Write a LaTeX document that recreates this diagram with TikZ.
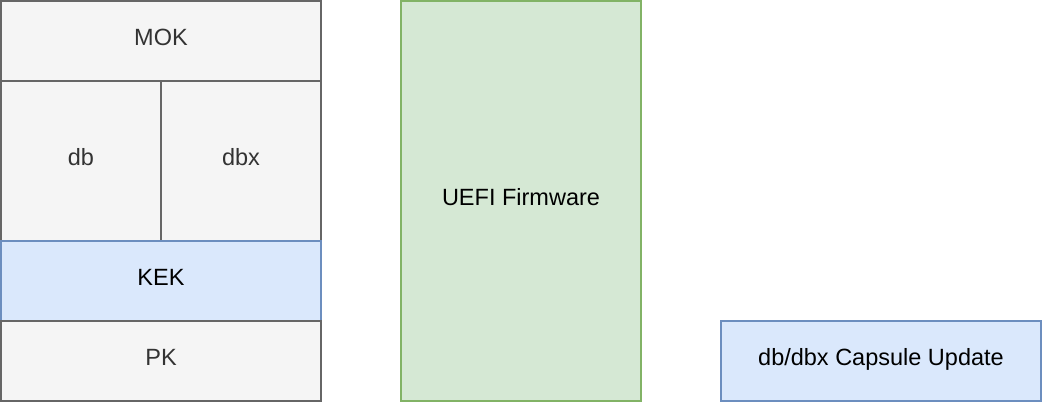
\documentclass[tikz,border=0pt]{standalone}
\usepackage{fontspec}
\setmainfont{Liberation Sans}
\usetikzlibrary{positioning}
\definecolor{grayfill}{HTML}{F5F5F5}
\definecolor{graydraw}{HTML}{666666}
\definecolor{graytext}{HTML}{333333}
\definecolor{bluefill}{HTML}{DAE8FC}
\definecolor{bluedraw}{HTML}{6C8EBF}
\definecolor{greenfill}{HTML}{D5E8D4}
\definecolor{greendraw}{HTML}{82B366}
\begin{document}
\begin{tikzpicture}[x=1pt, y=-1pt]
        \tikzstyle{every node}=[rectangle, draw, line width=2pt, inner sep=0pt, text height=17pt, text depth=8pt, font=\fontsize{23.5}{28}\selectfont];
        \tikzstyle{keybox}=[fill=grayfill, draw=graydraw, text=graytext];
        \tikzstyle{bluebox}=[fill=bluefill, draw=bluedraw, text=black];
        \tikzstyle{greenbox}=[fill=greenfill, draw=greendraw, text=black];
        \useasboundingbox (0,0) rectangle (1042,402);
        \node[keybox, minimum width=320pt, minimum height=80pt] (mok) at (161,41) {MOK};
        \node[keybox, minimum width=160pt, minimum height=160pt] (db) at (81,161) {db};
        \node[keybox, minimum width=160pt, minimum height=160pt] (dbx) at (241,161) {dbx};
        \node[bluebox, minimum width=320pt, minimum height=80pt] (kek) at (161,281) {KEK};
        \node[keybox, minimum width=320pt, minimum height=80pt] (pk) at (161,361) {PK};
        \node[greenbox, minimum width=240pt, minimum height=400pt] (uefi) at (521,201) {UEFI Firmware};
        \node[bluebox, minimum width=320pt, minimum height=80pt] (capsule) at (881,361) {db/dbx Capsule Update};
\end{tikzpicture}
\end{document}
